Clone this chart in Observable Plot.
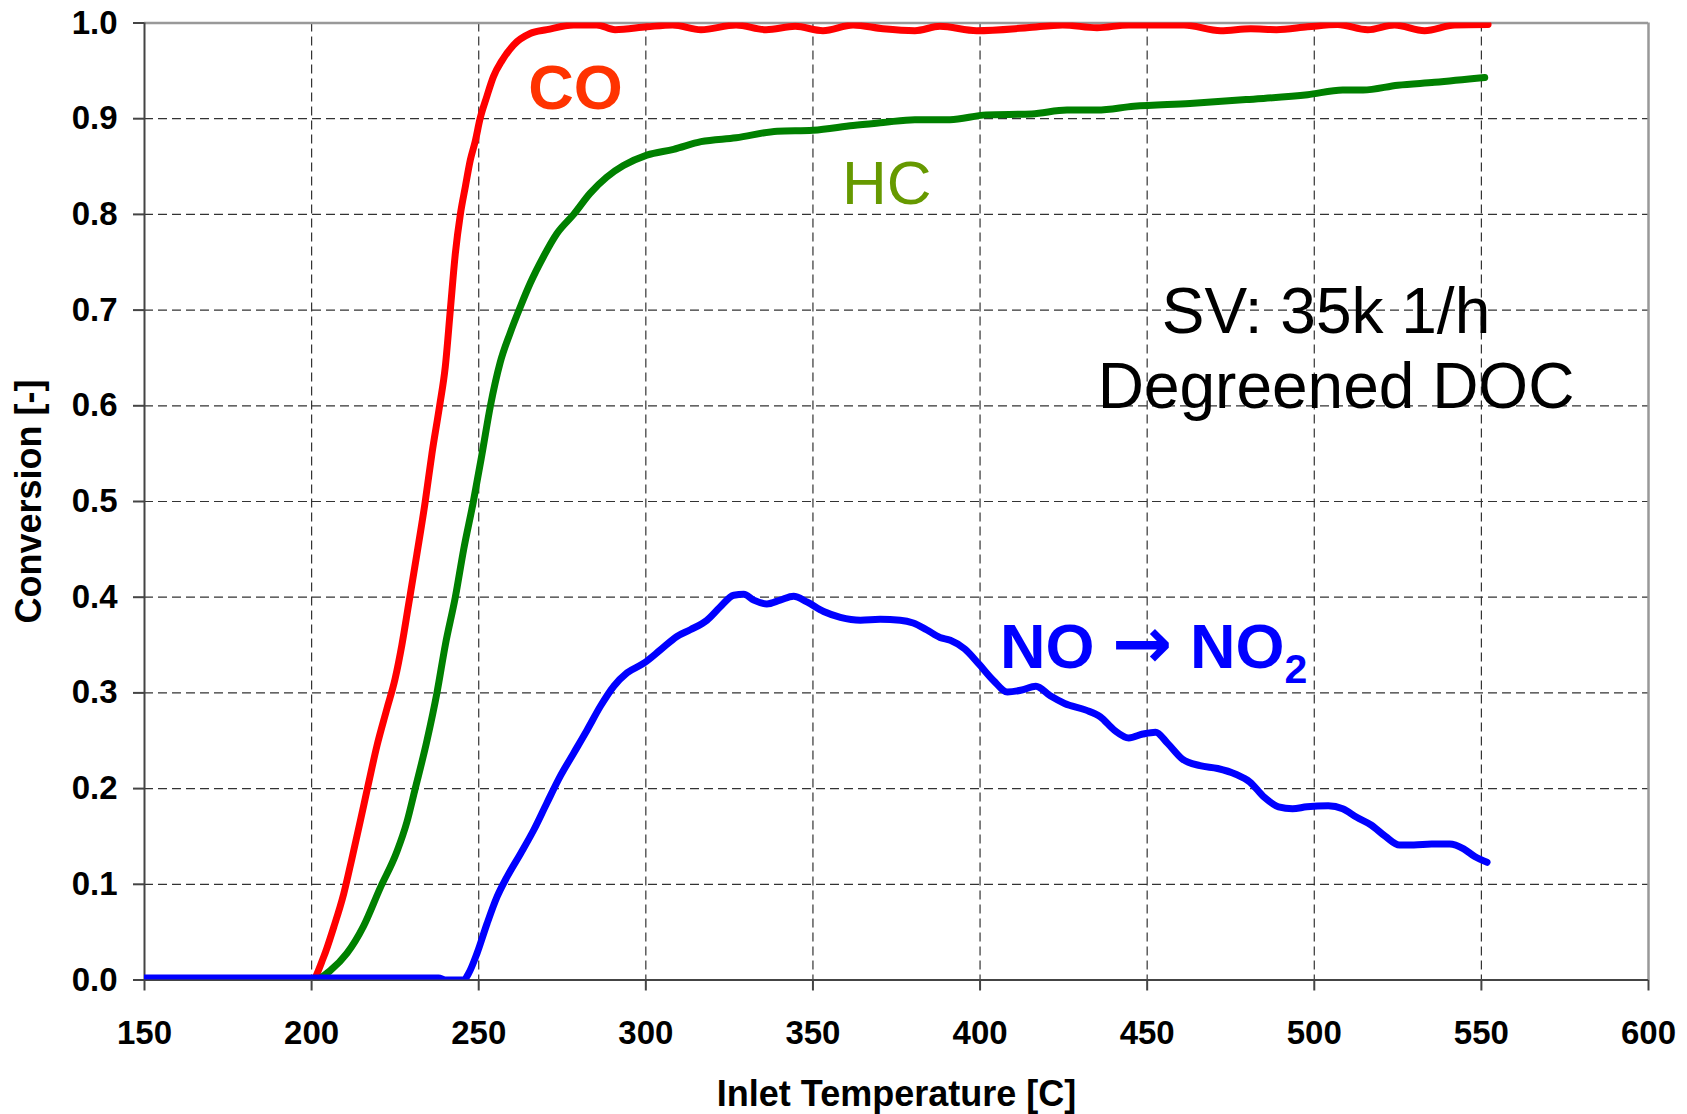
<!DOCTYPE html>
<html>
<head>
<meta charset="utf-8">
<script src="https://cdn.jsdelivr.net/npm/d3@7"></script>
<script src="https://cdn.jsdelivr.net/npm/@observablehq/plot@0.6"></script>
<style>
  html, body { margin: 0; padding: 0; background: #fff; }
  #chart svg { display: block; }
</style>
</head>
<body>
<div id="chart"></div>
<script>
// Light-off curves of a degreened DOC: conversion vs inlet temperature.
const xTicks = [150, 200, 250, 300, 350, 400, 450, 500, 550, 600];
const yTicks = [0, 0.1, 0.2, 0.3, 0.4, 0.5, 0.6, 0.7, 0.8, 0.9, 1.0];

const seriesNames = ["CO", "HC", "NO"];
const seriesColors = ["#ff0000", "#008000", "#0000ff"];

// CO conversion
const coTemp = [150, 200, 203.6, 206.6, 209.6, 212, 214.5, 217, 219.5, 222.5, 225, 227, 229, 231.5, 234,
  236, 238.3, 240, 241.5, 243, 244.5, 246, 247.5, 249, 250.4, 252.4, 254.4, 257, 260.4, 265.4,
  270.4, 278.4, 285.3, 290.8, 300.3, 308, 316.5, 327, 336, 344.7, 353, 362, 371, 380.5, 388,
  399, 414, 424.7, 435, 444.5, 461, 472, 481, 488.7, 498, 507, 516, 524, 533, 542, 552];
const coConv = [0, 0, 0.024, 0.055, 0.09, 0.126, 0.165, 0.205, 0.244, 0.283, 0.315, 0.35, 0.392, 0.445, 0.5,
  0.55, 0.6, 0.641, 0.70, 0.759, 0.80, 0.829, 0.857, 0.877, 0.90, 0.923, 0.944, 0.961, 0.977, 0.989,
  0.993, 0.998, 0.998, 0.993, 0.996, 0.998, 0.993, 0.998, 0.993, 0.9965, 0.992, 0.998, 0.994, 0.992, 0.9965,
  0.992, 0.995, 0.998, 0.995, 0.998, 0.998, 0.992, 0.994, 0.993, 0.996, 0.9985, 0.993, 0.998, 0.992, 0.998, 0.9985];

// HC conversion
const hcTemp = [150, 201, 205.6, 210.6, 215.5, 220.5, 225.5, 228.5, 231, 234.5, 237.5, 240, 243, 245.5, 248.4,
  251, 253.5, 256.4, 259.4, 262.4, 265.4, 269.4, 273.4, 278.4, 283.3, 288.3, 293.3, 300.3, 308.3, 316.5,
  327, 339.3, 350, 362, 371, 380.5, 391, 401.8, 415.5, 426, 435, 446, 462.8, 479.6, 498,
  508.5, 514.6, 525, 536, 551];
const hcConv = [0, 0, 0.01, 0.028, 0.056, 0.096, 0.134, 0.165, 0.2, 0.25, 0.3, 0.35, 0.4, 0.45, 0.5,
  0.55, 0.6, 0.645, 0.676, 0.703, 0.728, 0.756, 0.78, 0.80, 0.822, 0.839, 0.851, 0.862, 0.868, 0.876,
  0.880, 0.887, 0.888, 0.893, 0.896, 0.899, 0.899, 0.904, 0.905, 0.909, 0.909, 0.913, 0.916, 0.92, 0.925,
  0.93, 0.93, 0.935, 0.938, 0.943];

// NO -> NO2 conversion
const noTemp = [150, 238, 240, 244, 245.5, 247, 249.5, 252.5, 255.5, 258.5, 262.5, 266.5, 270.4, 274.4, 278.4,
  282.4, 286.4, 290.4, 294.4, 299.4, 304.4, 309.3, 313.3, 318.3, 322.3, 326.3, 329.3, 332.3, 336.2, 340.2,
  344.2, 348.2, 353.2, 358.2, 364.2, 370.1, 376.1, 380, 384, 388, 391.1, 395.4, 399.7, 404, 408.2,
  412.5, 416.7, 421, 425.3, 431.7, 436, 440.2, 444.5, 448.7, 452.5, 456.2, 460.5, 465.8, 471.1, 476.5,
  480.7, 485, 489.3, 493.5, 497.8, 504.2, 508.5, 512.7, 517, 521.3, 525.5, 529.8, 535.1, 540.5, 544.7,
  548, 551.7];
const noConv = [0.002, 0.002, 0, 0, 0, 0.007, 0.028, 0.059, 0.087, 0.108, 0.132, 0.157, 0.185, 0.213, 0.237,
  0.261, 0.286, 0.307, 0.321, 0.331, 0.345, 0.359, 0.366, 0.376, 0.39, 0.402, 0.403, 0.397, 0.393, 0.397,
  0.401, 0.395, 0.385, 0.379, 0.376, 0.377, 0.376, 0.373, 0.366, 0.358, 0.355, 0.346, 0.330, 0.313, 0.301,
  0.303, 0.307, 0.297, 0.289, 0.282, 0.275, 0.261, 0.253, 0.257, 0.259, 0.247, 0.231, 0.224, 0.221, 0.215,
  0.207, 0.191, 0.181, 0.179, 0.181, 0.182, 0.179, 0.17, 0.162, 0.15, 0.141, 0.141, 0.142, 0.142, 0.137,
  0.129, 0.123];

const xTitle = "Inlet Temperature [C]";
const yTitle = "Conversion [-]";

// Long-format table for the line mark
const rows = [
  ...coTemp.map((t, i) => ({gas: "CO", T: t, v: coConv[i]})),
  ...hcTemp.map((t, i) => ({gas: "HC", T: t, v: hcConv[i]})),
  ...noTemp.map((t, i) => ({gas: "NO", T: t, v: noConv[i]}))
];

const font = "'Liberation Sans', Arial, Helvetica, sans-serif";
const dash = "9,5";

const chart = Plot.plot({
  width: 1687,
  height: 1114,
  marginLeft: 144,
  marginRight: 39,
  marginTop: 22.5,
  marginBottom: 134.5,
  style: {fontFamily: font, background: "#fff", overflow: "visible"},
  x: {domain: [150, 600]},
  y: {domain: [0, 1]},
  color: {domain: seriesNames, range: seriesColors},
  marks: [
    // dashed grid
    Plot.gridX({ticks: xTicks.slice(1, -1), stroke: "#333", strokeOpacity: 1, strokeWidth: 1.2, strokeDasharray: dash}),
    Plot.gridY({ticks: yTicks.slice(1, -1), stroke: "#333", strokeOpacity: 1, strokeWidth: 1.2, strokeDasharray: dash}),
    // plot-area border
    Plot.ruleY([1], {stroke: "#999", strokeWidth: 2.5}),
    Plot.ruleX([600], {stroke: "#999", strokeWidth: 2.5}),
    Plot.ruleX([150], {stroke: "#444", strokeWidth: 2}),
    Plot.ruleY([0], {stroke: "#444", strokeWidth: 2}),
    // axes
    Plot.axisX({ticks: xTicks, tickSize: 11, tickPadding: 30, tickFormat: d => String(d),
      fontSize: 33, fontWeight: "bold", stroke: "#444", strokeWidth: 2, fill: "#000", label: null}),
    Plot.axisY({ticks: yTicks, tickSize: 11, tickPadding: 16, tickFormat: d3.format(".1f"),
      fontSize: 33, fontWeight: "bold", stroke: "#444", strokeWidth: 2, fill: "#000", label: null}),
    // axis titles
    Plot.text([xTitle], {text: d => d, frameAnchor: "bottom", dy: 114, textAnchor: "middle", lineAnchor: "middle",
      fontSize: 36, fontWeight: "bold", fill: "#000"}),
    Plot.text([yTitle], {text: d => d, frameAnchor: "left", dx: -115, rotate: -90, textAnchor: "middle",
      lineAnchor: "middle", fontSize: 36, fontWeight: "bold", fill: "#000"}),
    // conversion curves
    Plot.line(rows, {x: "T", y: "v", z: "gas", stroke: "gas", strokeWidth: 7,
      curve: "monotone-x", clip: true}),
    // curve labels
    Plot.text([{x: 264.8, y: 0.91, t: "CO"}], {x: "x", y: "y", text: "t", textAnchor: "start",
      lineAnchor: "bottom", fontSize: 63, fontWeight: "bold", fill: "#ff3300"}),
    Plot.text([{x: 358.7, y: 0.811, t: "HC"}], {x: "x", y: "y", text: "t", textAnchor: "start",
      lineAnchor: "bottom", fontSize: 62, fill: "#669900"}),
    Plot.text([{x: 503.5, y: 0.6763, t: "SV: 35k 1/h"}], {x: "x", y: "y", text: "t", textAnchor: "middle",
      lineAnchor: "bottom", fontSize: 64, fill: "#000"}),
    Plot.text([{x: 506.5, y: 0.598, t: "Degreened DOC"}], {x: "x", y: "y", text: "t", textAnchor: "middle",
      lineAnchor: "bottom", fontSize: 64, fill: "#000"}),
    Plot.text([{x: 406, y: 0.3265, t: "NO \u2192 NO2"}], {x: "x", y: "y", text: "t", textAnchor: "start",
      lineAnchor: "bottom", fontSize: 63, fontWeight: "bold", fill: "#0000ff"})
  ]
});

// rich text for the NO -> NO2 label: larger arrow glyph and subscript 2
d3.select(chart).selectAll("text")
  .filter(function () { return this.textContent === "NO \u2192 NO2"; })
  .each(function () {
    const t = d3.select(this);
    t.text(null);
    t.append("tspan").text("NO ");
    t.append("tspan").attr("font-family", "'DejaVu Sans', sans-serif").attr("font-size", 72).text("\u2192");
    t.append("tspan").text(" NO");
    t.append("tspan").attr("font-size", 41).attr("dy", 15).text("2");
  });

document.getElementById("chart").appendChild(chart);
</script>
</body>
</html>
